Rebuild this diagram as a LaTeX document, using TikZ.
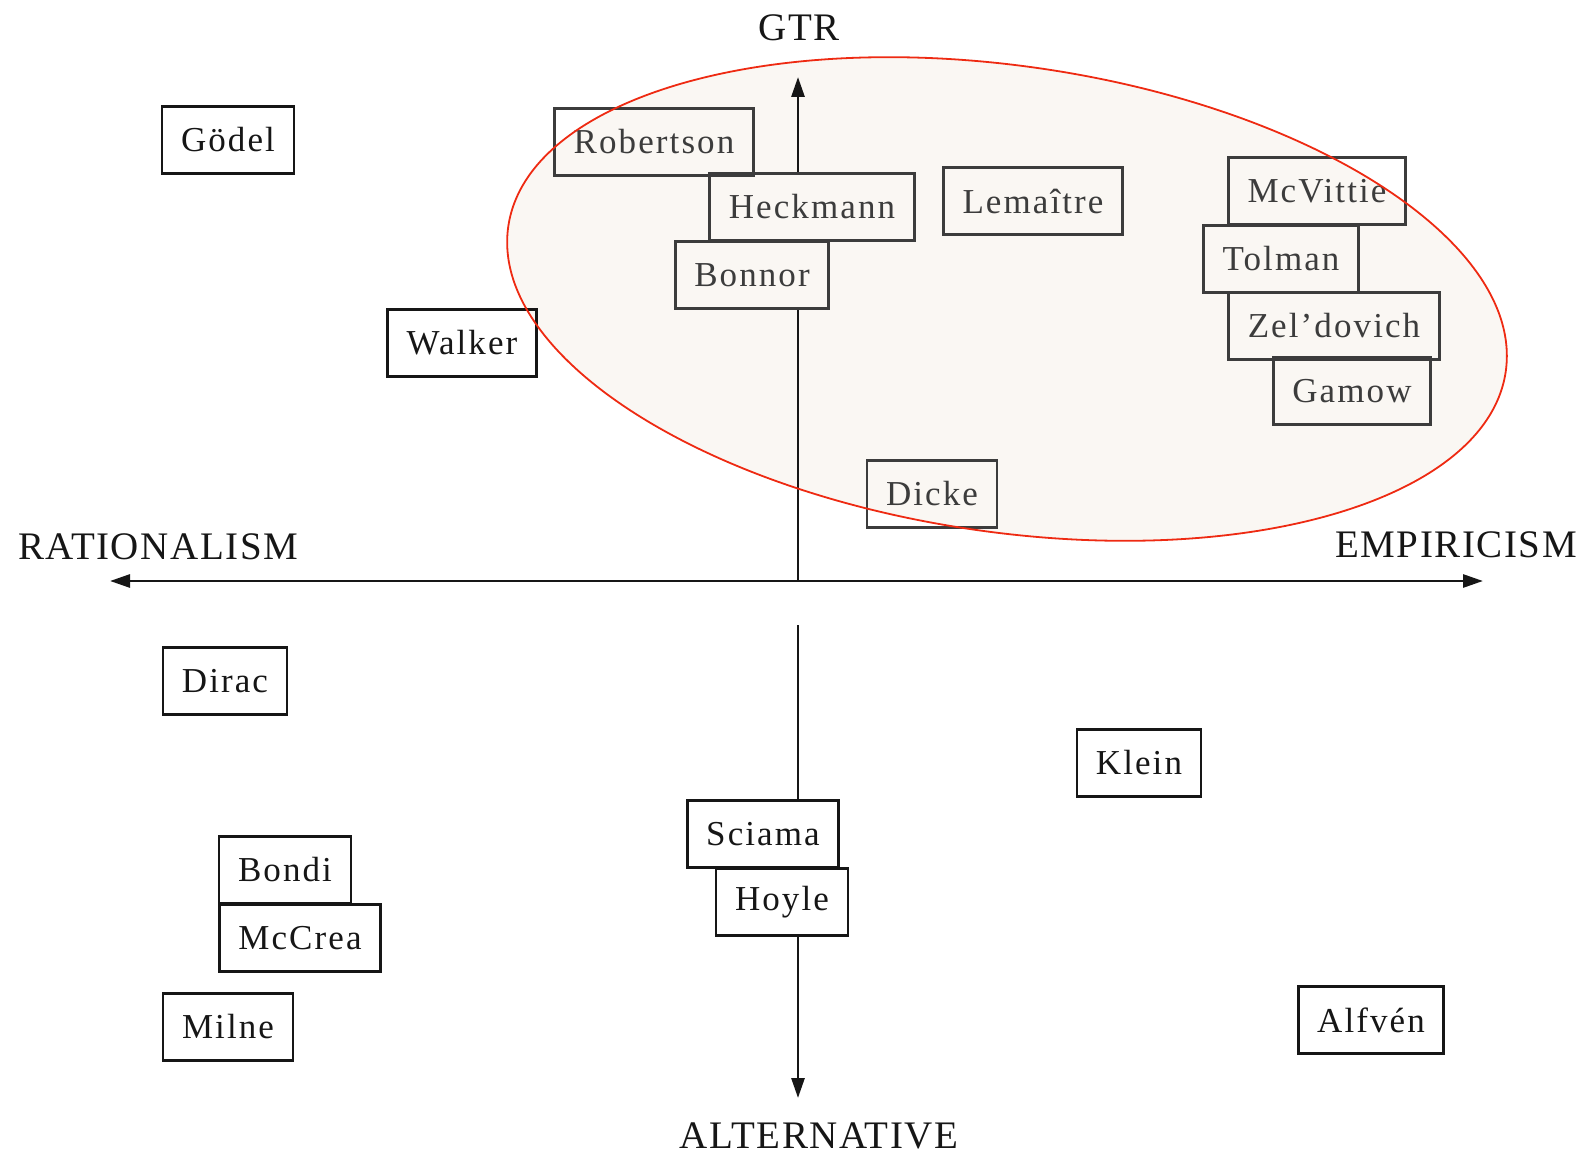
\documentclass[tikz,border=0pt]{standalone}
\usepackage{fontspec}
\setmainfont{Liberation Serif}
\newfontfamily\boxfont{Liberation Serif}[LetterSpace=6]
\newfontfamily\axisfont{Liberation Serif}[LetterSpace=4]
\usepackage{tikz}
\usetikzlibrary{arrows.meta}

\definecolor{groupfill}{HTML}{FAF7F3}
\definecolor{ink}{HTML}{161616}
\definecolor{faded}{HTML}{3C3C3C}
\definecolor{ringred}{HTML}{EE2A12}

\begin{document}
\begin{tikzpicture}[x=1pt, y=-1pt,
  >={Triangle[length=20pt,width=13pt]},
  namebox/.style={draw=ink, text=ink, line width=2.8pt, minimum height=67pt,
    inner xsep=19pt, font=\boxfont\fontsize{35}{42}\selectfont},
  ingroup/.style={namebox, draw=faded, text=faded},
  axislabel/.style={text=ink, font=\axisfont\fontsize{39}{46}\selectfont},
  axisline/.style={draw=ink, line width=2.8pt}]
\useasboundingbox (0,0) rectangle (1593,1155);
\fill[groupfill, rotate around={-8.3:(1007,299)}] (1007,299) ellipse [x radius=504, y radius=233];
%
\node[axislabel](GTR) at (799,28) {GTR};
\node[axislabel](RAT) at (158,547) {RATIONALISM};
\node[axislabel](EMP) at (1456,545) {EMPIRICISM};
\node[axislabel](ALT) at (819,1136) {ALTERNATIVE};
%
\node[namebox](Goedel) at (228,140) {Gödel};
\node[namebox](Walker) at (462,343) {Walker};
\node[ingroup](Robertson) at (654,142) {Robertson};
\node[ingroup](Heckmann) at (812,207) {Heckmann};
\node[ingroup](Bonnor) at (752,275) {Bonnor};
\node[ingroup](Lemaitre) at (1033,201) {Lemaître};
\node[ingroup](McVittie) at (1317,191) {McVittie};
\node[ingroup](Tolman) at (1281,259) {Tolman};
\node[ingroup](Zeldovich) at (1334,326) {Zel’dovich};
\node[ingroup](Gamow) at (1352,391) {Gamow};
\node[ingroup](Dicke) at (932,494) {Dicke};
\node[namebox](Dirac) at (225,681) {Dirac};
\node[namebox](Bondi) at (285,870) {Bondi};
\node[namebox](McCrea) at (300,938) {McCrea};
\node[namebox](Milne) at (228,1027) {Milne};
\node[namebox](Sciama) at (763,834) {Sciama};
\node[namebox](Hoyle) at (782,902) {Hoyle};
\node[namebox](Klein) at (1139,763) {Klein};
\node[namebox](Alfven) at (1371,1020) {Alfvén};
%
\coordinate(O) at (798,581);
\coordinate(ratend) at (110,581);
\coordinate(empend) at (1483,581);
\coordinate(gtrend) at (798,77);
\coordinate(altstart) at (798,625);
\coordinate(altend) at (798,1098);
%
\draw[axisline, <->](ratend) -- (empend);
\draw[axisline](O) -- (Bonnor.south -| O);
\draw[axisline, ->](Heckmann.north -| O) -- (gtrend);
\draw[axisline](altstart) -- (Sciama.north -| altstart);
\draw[axisline, ->](Hoyle.south -| altstart) -- (altend);
%
\draw[ringred, line width=1.8pt, rotate around={-8.3:(1007,299)}] (1007,299) ellipse [x radius=504, y radius=233];
\end{tikzpicture}
\end{document}
